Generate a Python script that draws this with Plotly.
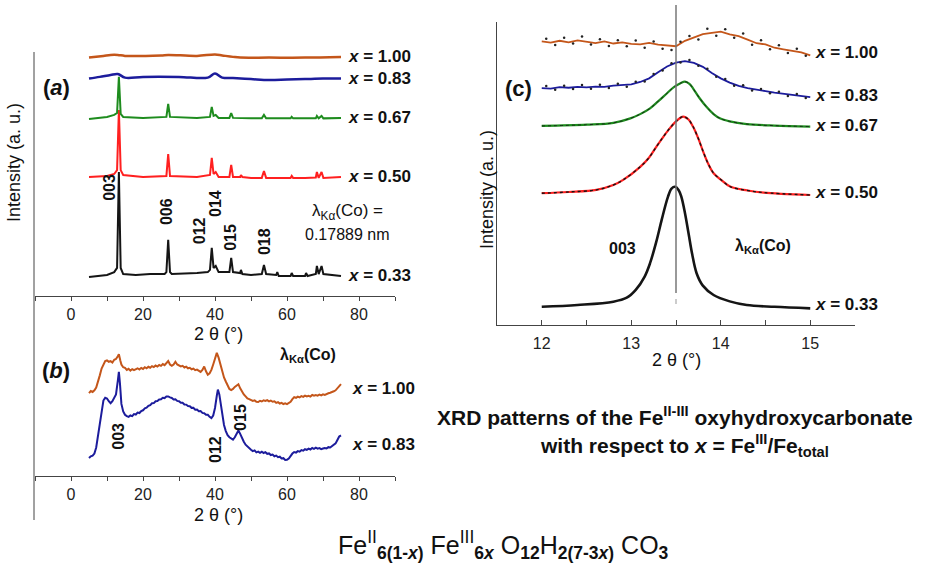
import plotly.graph_objects as go

W, H = 939, 564
FONT = "Liberation Sans, Arial, sans-serif"
BROWN = "#c4561a"
BLUE = "#1c1c9c"
GREEN = "#1e8c1e"
RED = "#ff2020"
BLACK = "#151515"

# ---------------- Panel (a): full XRD patterns (stacked, arbitrary units) ----------------
a_x_033 = [5, 8, 10, 12, 12.8, 13.3, 13.8, 14.5, 18, 22, 26, 26.5, 27.0, 27.5, 28, 35, 38, 38.6, 39.1, 39.6, 40.2, 41,
           44, 44.5, 45, 47, 47.2, 47.6, 50, 53, 53.6, 54.2, 57, 57.3, 57.7, 61, 61.3, 61.7, 65, 65.3, 65.7,
           68, 68.3, 68.8, 69.6, 70.1, 75]
a_y_033 = [7.8, 8.2, 8.6, 9.8, 11.5, 50.8, 11.5, 9.0, 8.6, 9.0, 9.0, 9.8, 23.0, 9.8, 9.0, 9.4, 9.8, 10.7, 19.7, 11.5, 12.3, 9.8,
           9.8, 15.6, 9.8, 9.4, 10.7, 9.0, 8.6, 9.0, 12.7, 9.0, 8.6, 9.8, 8.2, 8.2, 9.4, 8.2, 8.2, 9.4, 8.2,
           9.0, 12.3, 9.0, 12.3, 9.0, 8.2]

a_x_050 = [5, 10, 12, 12.8, 13.3, 13.8, 14.5, 20, 26.5, 27.0, 27.5, 35, 38.6, 39.1, 39.6, 40.2, 41, 44, 44.5, 45,
           47.0, 47.2, 47.6, 50, 53, 53.6, 54.2, 61, 61.3, 61.7, 65, 68, 68.3, 68.8, 69.6, 70.1, 75]
a_y_050 = [48.8, 49.2, 50.0, 51.6, 76.2, 51.6, 49.6, 48.8, 49.2, 58.2, 49.2, 48.8, 49.6, 56.6, 50.0, 50.8, 48.8, 48.8, 53.7, 48.8,
           48.8, 49.6, 48.8, 48.4, 48.4, 51.2, 48.4, 48.4, 49.2, 48.4, 48.4, 48.6, 50.8, 48.4, 50.8, 48.4, 48.8]

a_x_067 = [5, 10, 12, 12.8, 13.3, 13.8, 14.5, 20, 26.5, 27.0, 27.5, 35, 38.6, 39.1, 39.6, 40.2, 41, 44, 44.5, 45,
           50, 53, 53.6, 54.2, 61, 61.3, 61.7, 65, 68, 68.3, 68.8, 69.6, 70.1, 75]
a_y_067 = [72.5, 73.4, 74.2, 75.0, 89.8, 74.6, 73.4, 73.0, 73.4, 78.7, 73.4, 73.0, 73.4, 77.5, 73.8, 74.2, 73.0, 73.0, 75.0, 73.0,
           72.8, 72.8, 74.2, 72.8, 72.8, 73.4, 72.8, 72.8, 72.8, 73.8, 72.8, 73.8, 72.8, 73.0]

a_x_083 = [5, 8, 11, 13, 15, 20, 30, 38, 40, 42, 45, 50, 55, 60, 65, 70, 75]
a_y_083 = [89.1, 89.8, 90.6, 91.0, 89.5, 89.8, 89.8, 89.5, 91.2, 89.5, 89.3, 88.9, 88.5, 88.7, 88.9, 89.1, 89.1]

a_x_100 = [5, 9, 11, 13, 15, 25, 27, 35, 40, 42, 45, 47, 55, 65, 75]
a_y_100 = [97.7, 98.4, 98.8, 98.8, 98.4, 98.6, 98.8, 98.4, 99.0, 98.6, 98.0, 97.7, 97.7, 97.7, 98.0]

a_ticks = list(range(-10, 91, 10))
a_ticklabels = ["" if (t % 20 or t < 0) else str(t) for t in a_ticks]

# ---------------- Panel (b): x = 1.00 and x = 0.83 ----------------
b_x_100 = [5, 5.5, 6, 6.5, 7, 7.5, 8, 8.5, 9, 9.5, 10, 10.5, 11, 11.5, 12, 12.5, 13, 13.3, 13.7, 14, 14.5, 15, 15.5,
           16, 16.5, 17, 17.5, 18, 18.5, 19, 19.5, 20, 20.5, 21, 21.5, 22, 22.5, 23, 23.5, 24, 24.5, 25, 25.5,
           26, 26.5, 27, 27.5, 28, 28.5, 29, 29.5, 30, 30.5, 31, 31.5, 32, 32.5, 33, 33.5, 34, 34.5, 35, 35.5,
           36, 36.5, 37, 37.5, 38, 38.5, 39, 39.5, 40, 40.5, 41, 41.5, 42, 42.5, 43, 43.5, 44, 44.5, 45, 45.5,
           46, 46.5, 47, 47.5, 48, 48.5, 49, 49.5, 50, 50.5, 51, 51.5, 52, 52.5, 53, 53.5, 54, 54.5, 55, 55.5,
           56, 56.5, 57, 57.5, 58, 58.5, 59, 59.5, 60, 60.5, 61, 61.5, 62, 62.5, 63, 63.5, 64, 64.5, 65, 65.5,
           66, 66.5, 67, 67.5, 68, 68.5, 69, 69.5, 70, 70.5, 71, 71.5, 72, 72.5, 73, 73.5, 74, 74.5, 75]
b_y_100 = [61, 62.5, 61.8, 63, 65, 69, 74, 79, 82, 84.5, 85, 84, 84.5, 83.5, 85.5, 86, 88, 89.5, 85, 82, 80, 79.5, 78,
           78.8, 77.5, 78.6, 77.8, 78.4, 79.2, 78.3, 79.5, 78.7, 80, 79.2, 80.3, 79.6, 80.8, 80.1, 81.2, 80.5, 81.6, 81, 82.3,
           81.5, 83, 84.5, 82, 81, 82, 84, 82, 81.2, 80.6, 81, 79.8, 80.4, 79.2, 79.6, 78.5, 79, 77.8, 78.2, 77,
           76.5, 78, 80.5, 77, 74.5, 75.5, 78, 82, 86.5, 90.5, 87, 82, 76.5, 72.5, 69.5, 66, 64, 63.2, 64, 65.5,
           66.5, 67.5, 64.5, 62, 60, 58.5, 57, 56.5, 55.8, 55.2, 55.6, 54.5, 54.4, 55.3, 54.8, 55.7, 55.2, 55.8, 54.9, 55.5,
           54.6, 54.9, 53.8, 54.3, 53.3, 53.8, 52.9, 53.4, 52.8, 53.6, 54.5, 56.5, 58, 57.5, 58.4, 57.8, 58.7, 58.2, 59.1, 58.5,
           59, 58.4, 59.6, 59, 59.5, 59.1, 59.8, 59.3, 60, 59.6, 60.4, 60.8, 61.2, 61.6, 62.3, 63, 64.5, 66.5, 67.5]

b_x_083 = [5, 5.5, 6, 6.5, 7, 7.5, 8, 8.5, 9, 9.5, 10, 10.5, 11, 11.5, 12, 12.5, 13, 13.3, 13.6, 14, 14.5, 15, 15.5,
           16, 16.5, 17, 17.5, 18, 18.5, 19, 19.5, 20, 20.5, 21, 21.5, 22, 22.5, 23, 23.5, 24, 24.5, 25, 25.5,
           26, 26.5, 27, 27.5, 28, 28.5, 29, 29.5, 30, 30.5, 31, 31.5, 32, 32.5, 33, 33.5, 34, 34.5, 35, 35.5,
           36, 36.5, 37, 37.5, 38, 38.5, 39, 39.5, 40, 40.5, 40.8, 41.2, 41.7, 42, 42.5, 43, 43.5, 44, 44.5, 45, 45.5,
           46, 46.5, 47, 47.5, 48, 48.5, 49, 49.5, 50, 50.5, 51, 51.5, 52, 52.5, 53, 53.5, 54, 54.5, 55, 55.5,
           56, 56.5, 57, 57.5, 58, 58.5, 59, 59.5, 60, 60.5, 61, 61.5, 62, 62.5, 63, 63.5, 64, 64.5, 65, 65.5,
           66, 66.5, 67, 67.5, 68, 68.5, 69, 69.5, 70, 70.5, 71, 71.5, 72, 72.5, 73, 73.5, 74, 74.5, 75]
b_y_083 = [13.2, 14.5, 15, 16.5, 21, 30, 41, 50, 55.5, 57.5, 57, 55, 53.5, 55, 57.5, 60, 70, 76.5, 68, 53, 47.5, 45, 44,
           43.5, 44.5, 44, 45.5, 45.2, 46.6, 46.3, 47.8, 48.3, 49.8, 50.2, 51.6, 52.1, 53.5, 53.6, 55, 55.1, 56.2, 56.4, 57.5,
           57.3, 58.4, 58.5, 57.8, 57.4, 56.3, 56.4, 55.2, 55, 53.8, 53.9, 52.6, 52.5, 51.4, 51.3, 50.1, 50.2, 48.8, 48.9, 47.6,
           47.7, 46.4, 46.2, 45.1, 45, 43.5, 42.6, 44.5, 50, 59, 63.5, 60, 52, 45, 37.5, 33, 30, 28.5, 27.3, 26.8, 28.5,
           31.5, 33.5, 31, 27.5, 25.2, 23, 21.5, 20.3, 19.3, 18.3, 18.8, 17.4, 17.9, 17, 17.8, 16.9, 17.5, 16.3, 16.6, 15.4,
           15.8, 14.5, 15, 13.8, 14.2, 12.9, 13.1, 11.8, 12, 12.8, 14.8, 16.5, 17.6, 17.2, 18.3, 17.9, 19, 18.6, 19.7, 19.2,
           20.1, 19.5, 20.6, 20, 20.8, 20.1, 20.5, 19.7, 20.2, 20.6, 20.3, 21.2, 21, 22, 22.6, 24, 26.5, 29, 29.8]

# ---------------- Panel (c): 003 reflection ----------------
c_x_033 = [12.0, 12.4, 12.8, 12.95, 13.05, 13.15, 13.21, 13.28, 13.34, 13.41, 13.45, 13.49, 13.53, 13.56, 13.6, 13.64,
           13.68, 13.73, 13.8, 13.92, 14.1, 14.29, 14.6, 15.0]
c_y_033 = [6.0, 6.6, 7.7, 9.0, 11.6, 16.0, 20.4, 27.5, 34.7, 42.3, 45.0, 45.6, 44.5, 42.3, 37.0, 30.3,
           23.5, 17.1, 13.0, 9.9, 7.8, 6.6, 6.0, 5.5]

c_x_050 = [12.0, 12.3, 12.61, 12.8, 12.91, 13.1, 13.2, 13.28, 13.36, 13.43, 13.5, 13.58, 13.64, 13.69, 13.75, 13.81,
           13.86, 13.92, 14.0, 14.11, 14.3, 14.48, 15.0]
c_y_050 = [43.5, 43.9, 44.6, 46.2, 47.9, 52.2, 55.3, 58.8, 62.2, 64.9, 67.2, 68.8, 67.8, 65.5, 61.5, 56.7,
           53.2, 50.1, 48.0, 45.6, 44.4, 43.7, 42.9]

c_x_067 = [12.0, 12.5, 12.8, 12.99, 13.1, 13.21, 13.3, 13.4, 13.48, 13.55, 13.6, 13.65, 13.69, 13.76, 13.84, 13.92,
           13.99, 14.1, 14.29, 14.6, 15.0]
c_y_067 = [65.7, 66.1, 66.7, 68.2, 69.6, 71.5, 73.8, 76.5, 78.6, 79.8, 80.3, 79.6, 78.1, 75.0, 72.0, 69.6,
           68.2, 67.2, 66.3, 65.8, 65.5]

c_x_fit = [12.0, 12.1, 12.2, 12.3, 12.4, 12.5, 12.6, 12.7, 12.8, 12.9, 13.0, 13.1, 13.2, 13.3, 13.4, 13.5,
           13.6, 13.7, 13.8, 13.9, 14.0, 14.1, 14.2, 14.3, 14.4, 14.5, 14.6, 14.7, 14.8, 14.9, 15.0]
c_y_083 = [78.2, 78.0, 78.5, 78.3, 78.6, 78.4, 78.7, 78.6, 79.0, 79.1, 79.4, 80.2, 81.4, 83.4, 85.3, 86.6,
           87.1, 86.5, 85.2, 83.2, 81.4, 80.0, 78.9, 78.2, 77.6, 77.2, 76.7, 76.3, 75.8, 75.5, 75.2]
c_y_100 = [93.6, 93.2, 93.8, 93.3, 93.9, 93.4, 93.0, 93.6, 92.9, 93.3, 92.8, 92.6, 93.1, 92.5, 92.3, 92.0,
           93.8, 95.0, 96.0, 96.4, 96.8, 95.9, 95.3, 94.2, 93.0, 92.6, 91.5, 91.0, 90.5, 90.0, 89.0]

c_x_pts = [12.05, 12.15, 12.25, 12.35, 12.45, 12.55, 12.65, 12.75, 12.85, 12.95, 13.05, 13.15, 13.25, 13.35, 13.45,
           13.55, 13.65, 13.75, 13.85, 13.95, 14.05, 14.15, 14.25, 14.35, 14.45, 14.55, 14.65, 14.75, 14.85, 14.95]
c_pts_083 = [78.9, 77.6, 79.0, 77.9, 79.2, 78.0, 79.3, 78.2, 79.6, 78.6, 80.3, 80.4, 82.8, 84.0, 86.4,
             86.6, 87.5, 85.6, 84.6, 81.9, 81.2, 79.0, 79.1, 77.4, 77.9, 76.5, 77.0, 75.6, 76.2, 74.9]
c_pts_100 = [94.5, 92.4, 94.8, 92.9, 95.2, 92.6, 94.3, 92.1, 94.0, 92.0, 93.9, 91.5, 93.6, 91.2, 90.8,
             93.5, 95.4, 94.2, 97.8, 95.5, 97.6, 94.8, 96.2, 92.5, 94.0, 91.0, 92.3, 89.8, 91.2, 88.9]

c_ticks = [11.5, 12, 12.5, 13, 13.5, 14, 14.5, 15, 15.5]
c_ticklabels = ["", "12", "", "13", "", "14", "", "15", ""]

series_labels = ["x = 0.33", "x = 0.50", "x = 0.67", "x = 0.83", "x = 1.00"]


def px_x(p):
    return p / W


def px_y(p):
    return 1 - p / H


fig = go.Figure()


def line(x, y, color, ax, width=2.0, shape="linear", dash=None):
    fig.add_trace(go.Scatter(x=x, y=y, mode="lines", xaxis=ax[0], yaxis=ax[1], showlegend=False,
                             line=dict(color=color, width=width, shape=shape, dash=dash), hoverinfo="skip"))


A = ("x", "y")
B = ("x2", "y2")
C = ("x3", "y3")

# panel (a)
line(a_x_033, a_y_033, BLACK, A)
line(a_x_050, a_y_050, RED, A)
line(a_x_067, a_y_067, GREEN, A)
line(a_x_083, a_y_083, BLUE, A, width=2.5, shape="spline")
line(a_x_100, a_y_100, BROWN, A, width=2.5, shape="spline")

# panel (b)
line(b_x_100, b_y_100, BROWN, B, width=2)
line(b_x_083, b_y_083, BLUE, B, width=2)

# panel (c)
line(c_x_033, c_y_033, BLACK, C, width=2.6, shape="spline")
line(c_x_050, c_y_050, RED, C, width=2.2, shape="spline")
line(c_x_050, c_y_050, BLACK, C, width=1.4, shape="spline", dash="dot")
line(c_x_067, c_y_067, GREEN, C, width=2.2, shape="spline")
line(c_x_067, c_y_067, BLACK, C, width=0.8, shape="spline", dash="dot")
line(c_x_fit, c_y_083, BLUE, C, width=1.8)
line(c_x_fit, c_y_100, BROWN, C, width=1.8)
for yy in (c_pts_083, c_pts_100):
    fig.add_trace(go.Scatter(x=c_x_pts, y=yy, mode="markers", xaxis="x3", yaxis="y3", showlegend=False,
                             marker=dict(color="#222", size=2.5), hoverinfo="skip"))

tickfont = dict(family=FONT, size=16, color="#222")
common_x = dict(showgrid=False, zeroline=False, showline=True, linecolor="#444", linewidth=1,
                ticks="outside", ticklen=4, tickcolor="#444", tickfont=tickfont, fixedrange=True)
hidden_y = dict(visible=False, range=[0, 100], fixedrange=True)

fig.update_layout(
    width=W, height=H, margin=dict(l=0, r=0, t=0, b=0),
    paper_bgcolor="white", plot_bgcolor="rgba(0,0,0,0)",
    font=dict(family=FONT, color="#111"),
    xaxis=dict(domain=[px_x(35), px_x(395)], range=[-10, 90], tickmode="array", tickvals=a_ticks,
               ticktext=a_ticklabels, anchor="y", **common_x),
    yaxis=dict(domain=[px_y(296), px_y(52)], anchor="x", **hidden_y),
    xaxis2=dict(domain=[px_x(35), px_x(395)], range=[-10, 90], tickmode="array", tickvals=a_ticks,
                ticktext=a_ticklabels, anchor="y2", **common_x),
    yaxis2=dict(domain=[px_y(476), px_y(340)], anchor="x2", **hidden_y),
    xaxis3=dict(domain=[px_x(497), px_x(855)], range=[11.5, 15.5], tickmode="array", tickvals=c_ticks,
                ticktext=c_ticklabels, anchor="y3", showgrid=False, zeroline=False, showline=True,
                linecolor="#444", ticks="inside", ticklen=5, tickcolor="#444", tickfont=tickfont,
                ticklabelstandoff=4, fixedrange=True),
    yaxis3=dict(domain=[px_y(325), px_y(22)], range=[0, 100], anchor="x3", showgrid=False, zeroline=False,
                showline=True, linecolor="#444", showticklabels=False, ticks="", fixedrange=True),
)

shapes = [
    dict(type="line", xref="paper", yref="paper", x0=px_x(34), x1=px_x(34), y0=px_y(52), y1=px_y(520),
         line=dict(color="#444", width=1)),
    dict(type="line", xref="x3", yref="paper", x0=13.5, x1=13.5, y0=px_y(293), y1=px_y(5),
         line=dict(color="#777", width=1.5)),
    dict(type="line", xref="x3", yref="paper", x0=13.5, x1=13.5, y0=px_y(304), y1=px_y(299),
         line=dict(color="#999", width=1)),
]
fig.update_layout(shapes=shapes)

ann = []


def text(s, x, y, size=15, xref="paper", yref="paper", xanchor="center", angle=0, color="#111"):
    ann.append(dict(text=s, x=x, y=y, xref=xref, yref=yref, xanchor=xanchor, yanchor="middle",
                    showarrow=False, textangle=angle, font=dict(family=FONT, size=size, color=color)))


def xlab(s):
    name, val = s.split(" = ")
    return "<b><i>%s</i> = %s</b>" % (name, val)


# panel (a) labels
for lab, yv in zip(series_labels, [8.2, 48.8, 73.0, 89.3, 98.0]):
    text(xlab(lab), 76.5, yv, size=17, xref="x", yref="y", xanchor="left")
for lab, xv, yv in [("003", 10.8, 44.7), ("006", 26.4, 34.4), ("012", 35.6, 26.6), ("014", 40.0, 37.7),
                    ("015", 44.4, 24.2), ("018", 53.6, 22.5)]:
    text("<b>%s</b>" % lab, xv, yv, size=16, xref="x", yref="y", angle=-90)
text("λ<sub>Kα</sub>(Co) =", px_x(347), px_y(212), size=17)
text("0.17889 nm", px_x(347), px_y(234), size=16)
text("<b>(<i>a</i>)</b>", px_x(56), px_y(87), size=22)
text("Intensity (a. u.)", px_x(14), px_y(163), size=18, angle=-90)
text("2 θ (°)", px_x(218), px_y(334), size=18)

# panel (b) labels
for lab, yv in zip(["x = 0.83", "x = 1.00"], [22.8, 64.7]):
    text(xlab(lab), 77.5, yv, size=17, xref="x2", yref="y2", xanchor="left")
for lab, xv, yv in [("003", 13.1, 29.0), ("012", 40.0, 19.1), ("015", 47.2, 43.4)]:
    text("<b>%s</b>" % lab, xv, yv, size=16, xref="x2", yref="y2", angle=-90)
text("<b>λ<sub>Kα</sub>(Co)</b>", px_x(308), px_y(355), size=16)
text("<b>(<i>b</i>)</b>", px_x(56), px_y(370), size=22)
text("2 θ (°)", px_x(218), px_y(515), size=18)

# panel (c) labels
for lab, yv in zip(series_labels, [6.9, 43.6, 65.7, 75.6, 90.1]):
    text(xlab(lab), 15.03, yv, size=17, xref="x3", yref="y3", xanchor="left")
text("<b>003</b>", 12.9, 25.2, size=16, xref="x3", yref="y3")
text("<b>λ<sub>Kα</sub>(Co)</b>", 14.47, 25.9, size=16, xref="x3", yref="y3")
text("<b>(c)</b>", px_x(518), px_y(88), size=22)
text("Intensity (a. u.)", px_x(487), px_y(190), size=18, angle=-90)
text("2 θ (°)", px_x(676), px_y(360), size=18)

# captions
text("<b>XRD patterns of the Fe<sup>II-III</sup> oxyhydroxycarbonate</b>", px_x(675), px_y(416), size=21)
text("<b>with respect to <i>x</i> = Fe<sup>III</sup>/Fe<sub>total</sub></b>", px_x(684), px_y(445), size=21)
text("Fe<sup>II</sup><sub><b>6(1-<i>x</i>)</b></sub> Fe<sup>III</sup><sub><b>6<i>x</i></b></sub> "
     "O<sub><b>12</b></sub>H<sub><b>2(7-3<i>x</i>)</b></sub> CO<sub><b>3</b></sub>", px_x(503), px_y(545), size=25)

fig.update_layout(annotations=ann)
fig.write_html("out.html")
